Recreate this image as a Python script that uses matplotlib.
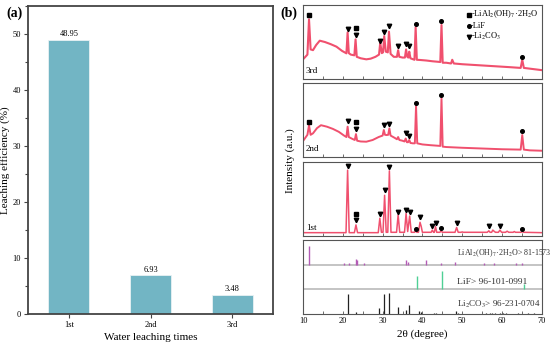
import matplotlib
matplotlib.use("Agg")
import matplotlib.pyplot as plt
from matplotlib.ticker import MultipleLocator

plt.rcParams['font.family'] = ['Liberation Serif', 'DejaVu Serif']
plt.rcParams['mathtext.fontset'] = 'stix'

# (a) leaching efficiency
times = ["1st", "2nd", "3rd"]
leach = [48.95, 6.93, 3.48]

# (b) XRD patterns (2theta, relative intensity 0-100)
tt_3rd = [10.0, 11.1, 11.5, 11.9, 12.5, 13.3, 14.2, 15.5, 17.0, 18.4, 19.8, 20.9, 21.2, 21.5,
          22.0, 22.9, 23.2, 23.5, 24.5, 25.9, 27.0, 28.2, 29.1, 29.4, 29.8, 30.1, 30.4, 30.8,
          31.3, 31.6, 32.0, 32.8, 33.6, 33.9, 34.2, 35.0, 35.6, 35.9, 36.2, 36.45, 36.7, 37.0,
          37.5, 38.0, 38.3, 38.6, 39.5, 41.0, 42.5, 44.5, 44.8, 45.1, 46.0, 47.2, 47.5, 47.9,
          50.0, 53.0, 56.0, 59.0, 62.0, 64.7, 65.1, 65.5, 67.0, 70.0]
int_3rd = [26.6, 33, 80.7, 40, 39, 46, 51.8, 50, 47, 43.7, 38, 34.7, 63, 35,
           33, 32, 53.6, 30, 28, 26.6, 27.5, 30, 33, 49, 35, 36, 58, 37,
           36, 64, 34, 30, 30, 39, 30, 29, 29, 40, 30, 29, 37, 28,
           27, 26, 70, 26, 25.7, 25, 24, 23, 73, 22, 22, 21, 26, 21,
           20, 19, 18, 17, 16, 15, 26, 15, 14, 12]

tt_2nd = [10.0, 11.1, 11.5, 11.9, 12.5, 13.5, 14.5, 16.0, 17.5, 19.0, 20.3, 20.9, 21.2, 21.5,
          22.2, 23.0, 23.3, 23.6, 24.5, 25.9, 27.5, 29.0, 30.0, 30.3, 30.6, 31.0, 31.4, 31.7,
          32.0, 33.0, 33.6, 33.9, 34.2, 35.0, 35.5, 35.8, 36.1, 36.4, 36.7, 37.0, 37.6, 38.1,
          38.4, 38.7, 40.0, 42.0, 44.5, 44.8, 45.1, 46.0, 50.0, 55.0, 60.0, 64.7, 65.1, 65.5,
          67.0, 70.0]
int_2nd = [21.6, 30, 43, 30, 32, 39, 43, 41, 38, 34, 29, 27, 41, 27,
           25, 23, 31, 22, 21, 20.7, 23, 27, 29, 36.5, 30, 29.7, 30, 38.7,
           29, 26, 24, 27, 23, 22, 21, 25, 20, 20, 23, 19, 18.5, 18.5,
           69, 18.5, 17, 16, 15, 79, 14, 13.5, 12.5, 11.5, 10.5, 10, 29.7, 10,
           9, 8.5]

tt_1st = [10, 20.8, 21.2, 21.6, 22.9, 23.3, 23.7, 28.9, 29.3, 29.7, 30.1, 30.5, 30.9, 31.3,
          31.7, 32.1, 33.5, 33.9, 34.3, 35.5, 35.9, 36.3, 36.8, 37.2, 38.0, 38.3, 38.6, 39.0,
          39.4, 39.7, 40.0, 42.2, 42.5, 42.8, 43.0, 43.3, 43.6, 44.4, 44.7, 45.0, 48.2, 48.6,
          49.0, 49.7, 50.0, 50.3, 56.3, 56.7, 57.0, 57.4, 57.7, 58.1, 58.4, 59.1, 59.5, 59.9,
          60.9, 61.3, 61.7, 62.8, 63.1, 63.4, 64.8, 65.1, 65.4, 70]
int_1st = [4.5, 4.5, 89, 4.5, 4.5, 15, 4.5, 4.5, 24, 5, 5, 55, 5, 5,
           88, 5, 5, 28.4, 5, 5, 30.6, 6, 27, 5, 5, 7, 5, 5,
           18.5, 13, 5, 5, 8, 5, 5, 12.6, 5, 5, 7, 5, 5, 11.5,
           5, 5, 5.5, 5, 5, 7, 5, 5, 8, 6, 5, 5, 8, 5,
           5, 6.5, 5, 5, 6, 5, 5, 6, 5, 4.5]

# phase markers: (2theta, height, symbol)
marks_3rd = [(11.5, 86, 's'), (21.2, 68, 'v'), (23.3, 69, 's'), (23.3, 60, 'v'), (29.3, 52, 'v'),
             (30.4, 64, 'v'), (31.7, 72, 'v'), (33.9, 45, 'v'), (35.9, 47, 'v'), (36.7, 44, 'v'),
             (38.4, 75, 'o'), (44.8, 78, 'o'), (65.1, 30, 'o')]
marks_2nd = [(11.5, 47, 's'), (21.2, 49, 'v'), (23.3, 47, 's'), (23.3, 38, 'v'), (30.3, 43, 'v'),
             (31.7, 45, 'v'), (35.8, 33, 'v'), (36.7, 29, 'v'), (38.4, 73, 'o'), (44.8, 84, 'o'),
             (65.1, 35, 'o')]
marks_1st = [(21.2, 94, 'v'), (23.3, 30, 's'), (23.3, 21, 'v'), (29.3, 30, 'v'), (30.5, 62, 'v'),
             (31.7, 93, 'v'), (33.9, 33, 'v'), (35.9, 35, 'v'), (36.8, 32, 'v'), (38.3, 10, 'o'),
             (39.4, 25, 'v'), (42.4, 14, 'v'), (43.4, 18, 'v'), (44.8, 11, 'o'), (48.7, 17, 'v'),
             (56.7, 13, 'v'), (59.5, 14, 'v'), (65.1, 10, 'o')]

# reference stick patterns (2theta, relative height)
ref_lial_tt = [11.6, 20.3, 21.6, 23.3, 23.6, 25.2, 36.0, 36.3, 40.8, 44.6, 48.2, 55.5, 58.0, 63.5, 65.0]
ref_lial_h = [0.76, 0.06, 0.08, 0.24, 0.2, 0.07, 0.2, 0.12, 0.17, 0.05, 0.09, 0.06, 0.05, 0.05, 0.05]
ref_lif_tt = [38.6, 45.0, 65.5]
ref_lif_h = [0.54, 0.74, 0.2]
ref_li2co3_tt = [21.2, 23.3, 29.2, 30.4, 31.6, 33.9, 35.8, 36.7, 39.2, 39.7, 42.8, 43.4, 48.4,
                 49.0, 56.0, 57.0, 57.6, 58.2, 59.4, 60.2, 61.0, 64.0, 66.5, 68.0]
ref_li2co3_h = [0.81, 0.1, 0.24, 0.81, 0.87, 0.3, 0.15, 0.36, 0.12, 0.08, 0.05, 0.06, 0.12,
                0.05, 0.05, 0.05, 0.05, 0.05, 0.06, 0.05, 0.05, 0.04, 0.04, 0.04]

fig = plt.figure(figsize=(5.5, 3.49), dpi=100)

# ---- (a) ----
ax = fig.add_axes([0.051, 0.1003, 0.4455, 0.8825])
ax.bar(range(len(times)), leach, width=0.5, color='#72b5c4', edgecolor='#e8f2f4', linewidth=0.6)
for i, v in enumerate(leach):
    ax.text(i, v + 0.3, f"{v:.2f}", ha='center', va='bottom', fontsize=6)
ax.set_xlim(-0.5, 2.5)
ax.set_ylim(0, 55)
ax.set_xticks(range(len(times)))
ax.set_xticklabels(times)
ax.yaxis.set_major_locator(MultipleLocator(10))
ax.yaxis.set_minor_locator(MultipleLocator(5))
ax.tick_params(axis='both', labelsize=6, length=3, width=0.8, color='#444444', pad=2)
ax.tick_params(axis='y', which='minor', length=2, width=0.8, color='#444444')
ax.set_xlabel("Water leaching times", fontsize=8, labelpad=3)
ax.set_ylabel("Leaching efficiency (%)", fontsize=8, labelpad=2)
for s in ax.spines.values():
    s.set_color('#444444')
    s.set_linewidth(1.3)
fig.text(0.012, 0.962, "(a)", fontsize=10, fontweight='bold', va='center')

# ---- (b) ----
line_col = '#f0506e'
left, width = 0.551, 0.434
bottoms = [0.7736, 0.5501, 0.3238]
patterns = [(tt_3rd, int_3rd, marks_3rd, "3rd", 1.5),
            (tt_2nd, int_2nd, marks_2nd, "2nd", 1.4),
            (tt_1st, int_1st, marks_1st, "1st", 1.1)]

def style_xrd(a):
    a.set_xlim(10, 70)
    a.xaxis.set_major_locator(MultipleLocator(10))
    a.xaxis.set_minor_locator(MultipleLocator(5))
    a.tick_params(axis='x', which='both', direction='in', length=2, width=0.6,
                  color='#555555', labelsize=6, pad=2)
    a.set_yticks([])
    for s in a.spines.values():
        s.set_color('#555555')
        s.set_linewidth(0.8)

for b, (tt, it, marks, lab, lw) in zip(bottoms, patterns):
    a = fig.add_axes([left, b, width, 0.212])
    a.plot(tt, it, color=line_col, lw=lw)
    for x, y, m in marks:
        a.plot(x, y, marker=m, color='black', ms=3.2 if m == 'v' else 2.6, ls='none')
    a.set_ylim(0, 100)
    a.text(0.012, 0.05, lab, transform=a.transAxes, fontsize=6.5, va='bottom', ha='left')
    style_xrd(a)
    a.set_xticklabels([])
    if lab == "3rd":
        legend_rows = [('s', "-LiAl$_2$(OH)$_7$·2H$_2$O", 87),
                       ('o', "-LiF", 72),
                       ('v', "-Li$_2$CO$_3$", 57)]
        for m, txt, y in legend_rows:
            a.plot(51.7, y, marker=m, color='black', ms=3.2 if m == 'v' else 2.6, ls='none')
            a.text(52.1, y, txt, fontsize=6, va='center', ha='left')

ar = fig.add_axes([left, 0.1003, width, 0.212])
ar.axhline(1, color='#c4c4c4', lw=1.4)
ar.axhline(2, color='#c4c4c4', lw=1.4)
ar.vlines(ref_lial_tt, 2, [2 + h for h in ref_lial_h], color='#b35cb6', lw=1.0)
ar.vlines(ref_lif_tt, 1, [1 + h for h in ref_lif_h], color='#4fd095', lw=1.0)
ar.vlines(ref_li2co3_tt, 0, ref_li2co3_h, color='#222222', lw=0.9)
ar.text(48.6, 2.45, "LiAl$_2$(OH)$_7$·2H$_2$O> 81-1573", fontsize=5.8, color='#333333', va='center')
ar.text(48.6, 1.3, "LiF> 96-101-0991", fontsize=6.8, color='#333333', va='center')
ar.text(48.6, 0.4, "Li$_2$CO$_3$> 96-231-0704", fontsize=6.5, color='#333333', va='center')
ar.set_ylim(0, 3)
style_xrd(ar)
ar.set_xlabel("2θ (degree)", fontsize=8, labelpad=3)

fig.text(0.527, 0.54, "Intensity (a.u.)", rotation=90, fontsize=8, va='center', ha='center')
fig.text(0.51, 0.962, "(b)", fontsize=10, fontweight='bold', va='center')

fig.savefig("out.png", dpi=100)
